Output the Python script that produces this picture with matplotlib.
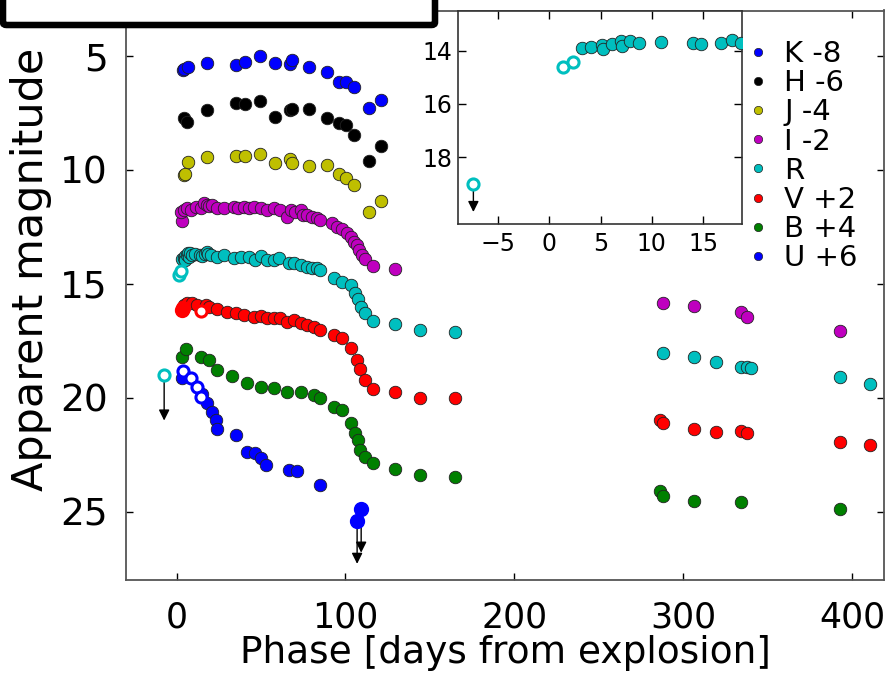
import matplotlib
matplotlib.use("Agg")
import matplotlib.pyplot as plt
from matplotlib.lines import Line2D
from matplotlib.patches import FancyBboxPatch

# ---------------- data (plotted = magnitude + offset) ----------------
band_names = ["K -8", "H -6", "J -4", "I -2", "R", "V +2", "B +4", "U +6"]
band_colors = ["#0000ff", "#000000", "#bfbf00", "#bf00bf", "#00bfbf", "#ff0000", "#008000", "#0000ff"]

k_phase = [3.6, 4.3, 6.9, 17.8, 35.1, 40.6, 49.3, 58.0, 67.1, 68.4, 78.3, 89.2, 96.1, 100.4, 105.3, 113.8, 121.1]
k_mag = [5.61, 5.58, 5.47, 5.32, 5.38, 5.25, 5.00, 5.29, 5.35, 5.18, 5.50, 5.69, 6.13, 6.16, 6.35, 7.30, 6.93]

h_phase = [4.3, 6.3, 17.8, 35.1, 40.6, 49.3, 58.0, 67.1, 68.4, 78.3, 89.2, 96.1, 100.4, 105.3, 113.8, 121.1]
h_mag = [7.71, 7.88, 7.37, 7.05, 7.11, 6.97, 7.69, 7.37, 7.31, 7.33, 7.71, 7.93, 8.03, 8.48, 9.61, 8.94]

j_phase = [4.2, 4.7, 6.7, 17.8, 35.1, 40.6, 49.3, 58.0, 67.1, 68.4, 78.3, 89.2, 96.1, 100.4, 105.3, 113.8, 121.1]
j_mag = [10.22, 10.18, 9.64, 9.45, 9.39, 9.39, 9.30, 9.68, 9.53, 9.68, 9.83, 9.78, 10.19, 10.35, 10.66, 11.85, 11.36]

i_phase = [3.4, 2.8, 4.4, 6.3, 8.3, 11.2, 14.2, 16.2, 17.8, 19.1, 21.1, 24.1, 28.0, 33.9, 36.5, 39.8,
           42.8, 45.8, 49.7, 53.6, 57.6, 61.5, 65.5, 67.5, 70.4, 73.4, 75.0, 77.3, 80.3, 83.2, 85.2,
           92.1, 95.1, 98.0, 101.0, 103.0, 104.9, 106.9, 107.9, 109.9, 111.8, 116.2, 129.6,
           287.8, 306.7, 334.5, 337.7, 392.7]
i_mag = [12.24, 11.83, 11.76, 11.69, 11.76, 11.61, 11.69, 11.47, 11.54, 11.58, 11.54, 11.69, 11.69, 11.61, 11.66, 11.61,
         11.69, 11.61, 11.69, 11.76, 11.69, 11.76, 12.05, 11.76, 11.83, 11.76, 11.98, 11.98, 12.05, 12.12, 12.20,
         12.34, 12.49, 12.61, 12.78, 12.93, 13.15, 13.29, 13.51, 13.73, 13.92, 14.22, 14.33,
         15.84, 15.96, 16.25, 16.47, 17.07]

r_phase = [3.2, 4.1, 5.1, 5.2, 6.1, 7.0, 7.1, 7.9, 8.8, 10.9, 14.0, 14.8, 16.8, 17.8, 18.7,
           20.1, 24.1, 28.0, 33.9, 37.9, 42.8, 46.7, 49.7, 53.6, 57.6, 60.5, 66.5, 69.4, 73.4, 77.3,
           80.3, 83.2, 85.2, 93.1, 98.0, 103.0, 105.9, 107.3, 109.3, 111.8, 116.2, 129.6, 144.0, 165.0,
           287.8, 306.7, 319.7, 334.5, 337.7, 340.0, 392.7, 410.8]
r_mag = [13.91, 13.85, 13.79, 13.95, 13.75, 13.66, 13.82, 13.66, 13.72, 13.69, 13.72, 13.76, 13.70, 13.62, 13.70,
         13.73, 13.81, 13.73, 13.88, 13.81, 13.81, 13.95, 13.78, 13.95, 13.95, 13.88, 14.10, 14.10, 14.17, 14.25,
         14.32, 14.32, 14.39, 14.76, 14.90, 15.05, 15.42, 15.68, 16.00, 16.29, 16.62, 16.76, 17.03, 17.11,
         18.02, 18.19, 18.41, 18.66, 18.63, 18.69, 19.10, 19.40]
r_open_phase = [1.3, 2.3]
r_open_mag = [14.62, 14.43]
r_limit_phase = [-7.4]
r_limit_mag = [19.0]

v_phase = [4.4, 6.3, 9.3, 12.2, 17.2, 19.1, 24.1, 30.0, 34.9, 39.8, 45.8, 49.7, 53.6, 57.6, 61.5,
           65.5, 69.4, 73.4, 77.3, 81.3, 85.2, 93.1, 98.0, 103.0, 106.9, 108.9, 111.8, 116.2, 129.6, 144.0, 165.0,
           286.4, 287.8, 306.7, 319.7, 334.5, 337.7, 392.7, 410.8]
v_mag = [15.93, 15.85, 15.85, 15.93, 15.93, 16.00, 16.12, 16.22, 16.29, 16.37, 16.44, 16.41, 16.51, 16.51, 16.51,
         16.66, 16.58, 16.73, 16.81, 16.88, 17.03, 17.24, 17.39, 17.83, 18.34, 18.75, 19.22, 19.63, 19.73, 20.02, 20.00,
         20.98, 21.12, 21.38, 21.51, 21.44, 21.56, 21.95, 22.07]
v_early_phase = [3.4, 4.0]
v_early_mag = [16.15, 16.05]
v_open_phase = [14.2]
v_open_mag = [16.19]

b_phase = [3.4, 5.3, 14.2, 19.1, 24.1, 33.0, 41.8, 49.7, 57.6, 65.5, 73.4, 81.2, 85.2, 93.1, 98.0,
           103.0, 105.9, 107.3, 108.9, 111.8, 116.2, 129.6, 144.0, 165.0,
           286.4, 287.8, 306.7, 334.5, 392.7]
b_mag = [18.20, 17.87, 18.20, 18.34, 18.78, 19.04, 19.36, 19.51, 19.58, 19.73, 19.73, 19.88, 20.02, 20.39, 20.54,
         21.12, 21.56, 21.85, 22.29, 22.61, 22.88, 23.14, 23.40, 23.48,
         24.08, 24.31, 24.53, 24.59, 24.87]

u_phase = [3.4, 15.2, 17.8, 21.1, 23.1, 24.1, 34.9, 41.8, 46.7, 50.1, 53.1, 66.5, 71.4, 84.8]
u_mag = [19.15, 19.83, 20.24, 20.61, 20.98, 21.38, 21.63, 22.36, 22.44, 22.66, 22.95, 23.17, 23.20, 23.83]
u_open_phase = [3.9, 8.7, 12.2, 14.2]
u_open_mag = [18.81, 19.15, 19.51, 19.98]
u_limit_phase = [106.9, 109.3]
u_limit_mag = [25.39, 24.90]

main_xticks = [0, 100, 200, 300, 400]
main_yticks = [5, 10, 15, 20, 25]
inset_xticks = [-5, 0, 5, 10, 15]
inset_yticks = [14, 16, 18]

# ---------------- figure ----------------
W, H = 891, 675
fig = plt.figure(figsize=(W / 100, H / 100), dpi=100)
ax = fig.add_axes([126 / W, 1 - 580 / H, (884 - 126) / W, (580 - 10.5) / H])

MS = 9
MEW = 0.6


def filled(axis, x, y, c, ms=MS):
    axis.plot(x, y, ls="none", marker="o", ms=ms, mfc=c, mec="#222222", mew=MEW, zorder=3)


def opened(axis, x, y, c, ms=MS - 1):
    axis.plot(x, y, ls="none", marker="o", ms=ms, mfc="white", mec=c, mew=2.2, zorder=3)


def limit(axis, x, y, length):
    for xx, yy in zip(x, y):
        axis.annotate("", xy=(xx, yy + length), xytext=(xx, yy),
                      arrowprops=dict(arrowstyle="-|>", color="k", lw=1.0,
                                      shrinkA=0, shrinkB=0, mutation_scale=16),
                      zorder=2)


for xs, ys, c in [(k_phase, k_mag, band_colors[0]), (h_phase, h_mag, band_colors[1]),
                  (j_phase, j_mag, band_colors[2]), (i_phase, i_mag, band_colors[3]),
                  (r_phase, r_mag, band_colors[4]), (v_phase, v_mag, band_colors[5]),
                  (b_phase, b_mag, band_colors[6]), (u_phase, u_mag, band_colors[7])]:
    filled(ax, xs, ys, c)

opened(ax, r_open_phase, r_open_mag, band_colors[4])
opened(ax, r_limit_phase, r_limit_mag, band_colors[4])
limit(ax, r_limit_phase, [m + 0.25 for m in r_limit_mag], 1.75)
ax.plot(v_early_phase, v_early_mag, ls="none", marker="o", ms=MS + 1, mfc=band_colors[5],
        mec=band_colors[5], zorder=3)
opened(ax, v_open_phase, v_open_mag, band_colors[5])
opened(ax, u_open_phase, u_open_mag, band_colors[7])
limit(ax, u_limit_phase, u_limit_mag, 1.9)
ax.plot(u_limit_phase, u_limit_mag, ls="none", marker="o", ms=MS + 1, mfc=band_colors[7],
        mec=band_colors[7], zorder=3)

ax.set_xlim(-30, 419)
ax.set_ylim(28, 3)
ax.set_xticks(main_xticks)
ax.set_yticks(main_yticks)
ax.tick_params(direction="in", length=5, width=1, top=True, right=True)
ax.tick_params(axis="x", pad=15, labelsize=25)
ax.tick_params(axis="y", pad=13, labelsize=27)
for s in ax.spines.values():
    s.set_color("#555555")
    s.set_linewidth(1.3)
ax.set_xlabel("Phase [days from explosion]", fontsize=27, labelpad=0)
ax.set_ylabel("Apparent magnitude", fontsize=31)
ax.yaxis.set_label_coords(-0.098, 0.545)

# ---------------- inset ----------------
ins = fig.add_axes([458 / W, 1 - 224 / H, (742 - 458) / W, (224 - 10.5) / H])
filled(ins, r_phase, r_mag, band_colors[4])
opened(ins, r_open_phase, r_open_mag, band_colors[4])
opened(ins, r_limit_phase, r_limit_mag, band_colors[4])
limit(ins, r_limit_phase, [m + 0.2 for m in r_limit_mag], 0.85)
ins.set_xlim(-8.9, 18.8)
ins.set_ylim(20.5, 12.5)
ins.set_xticks(inset_xticks)
ins.set_yticks(inset_yticks)
ins.tick_params(direction="in", length=6, width=1, labelsize=17, top=True, right=True)
ins.tick_params(axis="x", pad=6)
ins.tick_params(axis="y", pad=4)
for s in ins.spines.values():
    s.set_color("#333333")
    s.set_linewidth(1.2)

# ---------------- legend ----------------
handles = [Line2D([], [], ls="none", marker="o", ms=6, mfc=c, mec="#222222", mew=0.5)
           for c in band_colors]
fig.legend(handles, band_names, loc="upper left", bbox_to_anchor=(743 / W, 1 - 40 / H),
           frameon=False, fontsize=21, labelspacing=0.04, handlelength=1.0,
           handletextpad=0.42, borderpad=0, borderaxespad=0)

# ---------------- cut-off title box ----------------
box = FancyBboxPatch((3 / W, 1 - 25 / H), 432 / W, 60 / H, boxstyle="round,pad=0,rounding_size=0.004",
                     transform=fig.transFigure, facecolor="white", edgecolor="black",
                     linewidth=4.7, zorder=10)
fig.patches.append(box)

fig.savefig("out.png", dpi=100)
